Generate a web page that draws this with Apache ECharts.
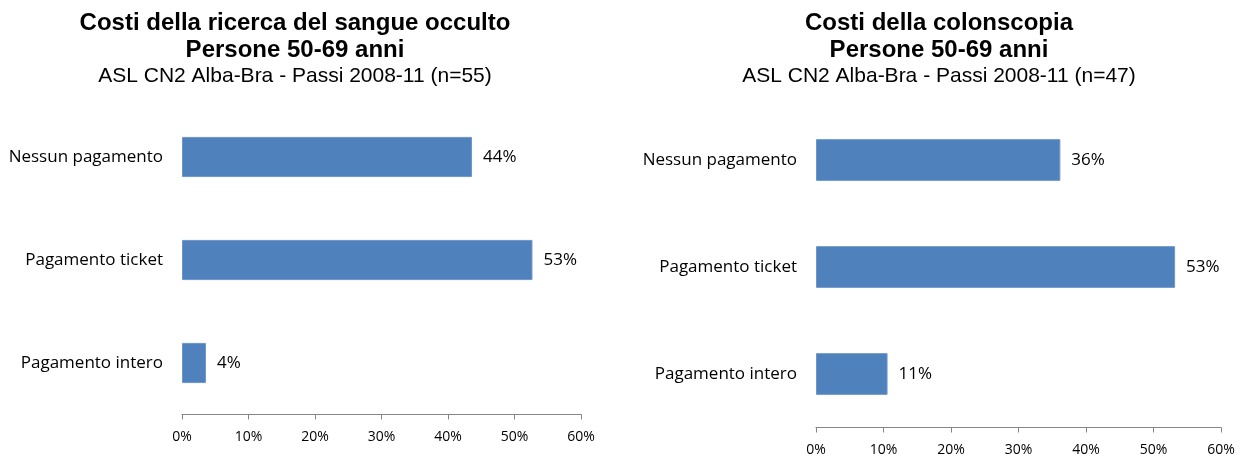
<!DOCTYPE html>
<html>
<head>
<meta charset="utf-8">
<script src="https://cdn.jsdelivr.net/npm/echarts@6/dist/echarts.min.js"></script>
<style>html,body{margin:0;padding:0;background:#fff}#c{width:1246px;height:459px}</style>
</head>
<body>
<div id="c"></div>
<script>
const categories = ['Nessun pagamento', 'Pagamento ticket', 'Pagamento intero'];
const sangueValues = [43.6, 52.7, 3.6];
const colonValues = [36.2, 53.2, 10.6];
const xTicks = [0, 10, 20, 30, 40, 50, 60];
const title1 = 'Costi della ricerca del sangue occulto\nPersone 50-69 anni';
const sub1 = 'ASL CN2 Alba-Bra - Passi 2008-11 (n=55)';
const title2 = 'Costi della colonscopia\nPersone 50-69 anni';
const sub2 = 'ASL CN2 Alba-Bra - Passi 2008-11 (n=47)';

const chart = echarts.init(document.getElementById('c'), null, {renderer: 'canvas'});
const catFont = 'Open Sans';
function xAxis(gi) {
  return {
    type: 'value', gridIndex: gi, min: xTicks[0], max: xTicks[xTicks.length - 1], interval: 10,
    axisLine: {show: true, lineStyle: {color: '#868686', width: 1}},
    axisTick: {show: true, inside: false, length: 5, lineStyle: {color: '#868686'}},
    splitLine: {show: false},
    axisLabel: {formatter: v => v + '%', color: '#000', fontFamily: catFont, fontSize: 14, margin: 16}
  };
}
function yAxis(gi) {
  return {
    type: 'category', gridIndex: gi, data: categories, inverse: true,
    axisLine: {show: false}, axisTick: {show: false},
    axisLabel: {color: '#000', fontFamily: catFont, fontSize: 17, margin: 19}
  };
}
function series(gi, vals) {
  return {
    type: 'bar', xAxisIndex: gi, yAxisIndex: gi, data: vals, barWidth: '39%',
    itemStyle: {color: '#4F81BD', borderColor: '#6E95C8', borderWidth: 1},
    label: {show: true, position: 'right', distance: 11, formatter: p => Math.round(p.value) + '%',
            color: '#000', fontFamily: catFont, fontSize: 17},
    silent: true, animation: false
  };
}
function mkTitle(x, text, sub) {
  return {
    text: text, subtext: sub, left: x, top: 5, textAlign: 'center', itemGap: 0,
    textStyle: {fontFamily: 'Liberation Sans', fontWeight: 'bold', fontSize: 24, color: '#000', lineHeight: 27},
    subtextStyle: {fontFamily: 'Liberation Sans', fontSize: 21, color: '#000', lineHeight: 25}
  };
}
chart.setOption({
  animation: false,
  title: [mkTitle(290, title1, sub1), mkTitle(934, title2, sub2)],
  grid: [
    {left: 182, width: 399, top: 105.5, height: 309, containLabel: false},
    {left: 816, width: 405, top: 106.5, height: 321, containLabel: false}
  ],
  xAxis: [xAxis(0), xAxis(1)],
  yAxis: [yAxis(0), yAxis(1)],
  series: [series(0, sangueValues), series(1, colonValues)]
});
</script>
</body>
</html>
